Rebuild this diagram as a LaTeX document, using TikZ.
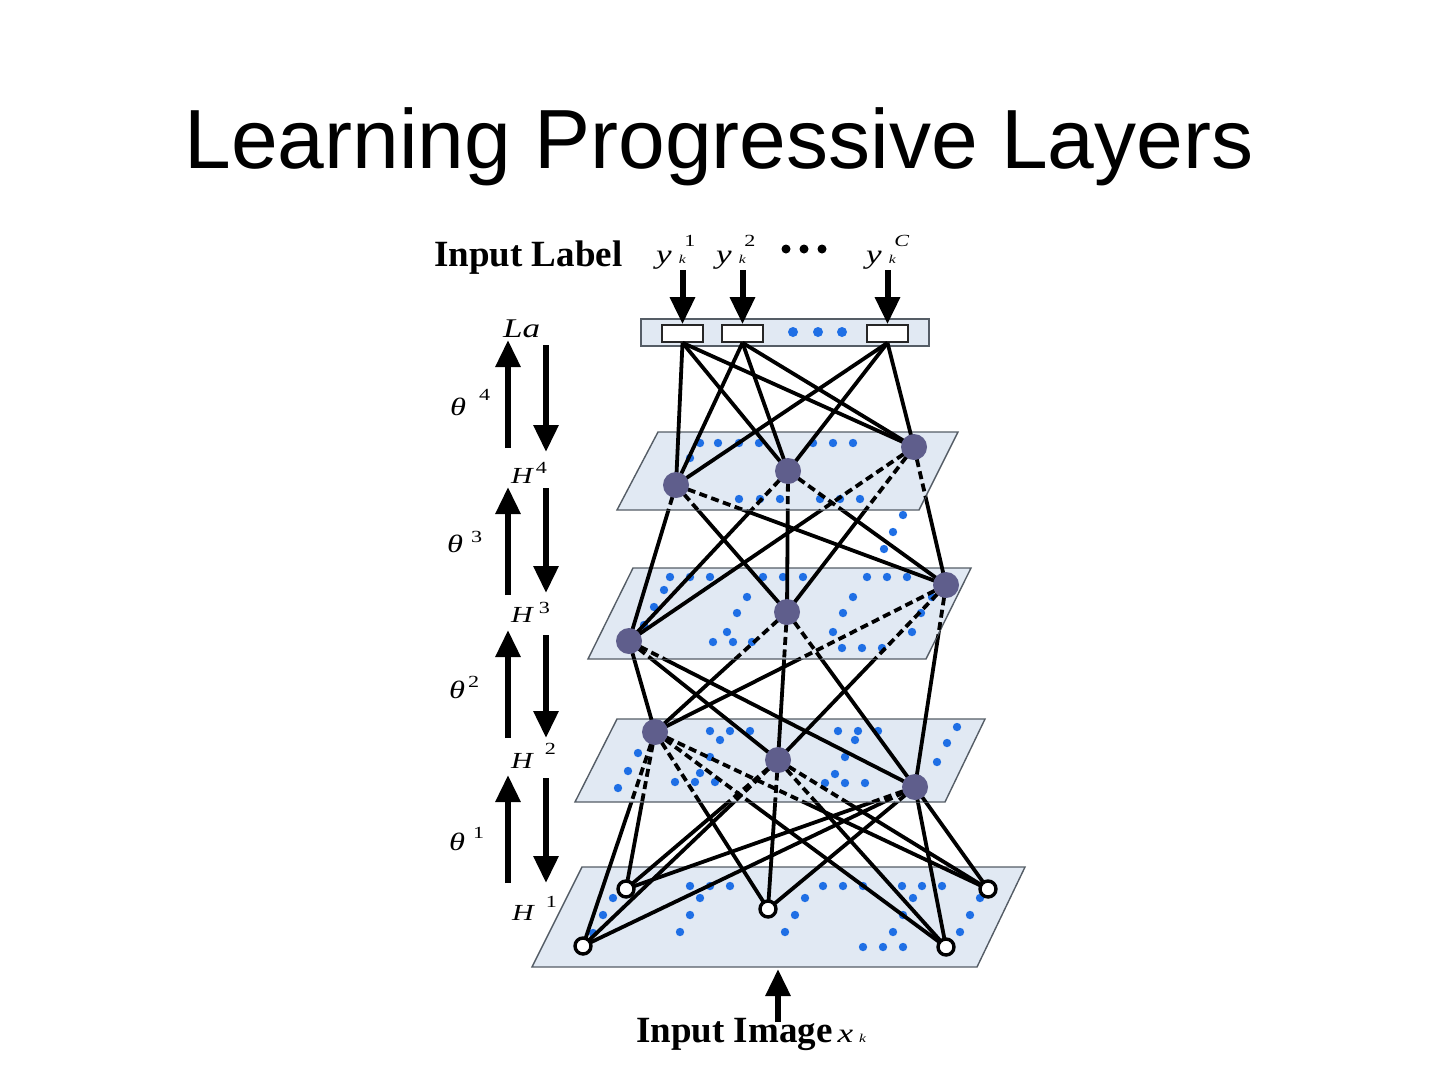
\documentclass[tikz,border=0pt]{standalone}
\usepackage{fontspec}
\setmainfont{Liberation Serif}
\newfontfamily\titlefont{Liberation Sans}
\newfontfamily\labfont[FakeStretch=1.3]{Liberation Serif}
\usetikzlibrary{arrows.meta}

\definecolor{planefill}{HTML}{E1E9F3}
\definecolor{planeline}{HTML}{555D66}
\definecolor{dotblue}{HTML}{1F6FE5}
\definecolor{unitfill}{HTML}{5F5E8C}

% gap, raise, letter, digit
\newcommand{\lbl}[4]{{\labfont\itshape #3}\kern#1pt\raisebox{#2pt}{\fontsize{17}{17}\selectfont\labfont #4}}
\newcommand{\ylab}[2]{{\labfont\itshape y}\kern7pt\rlap{\raisebox{17pt}{\fontsize{17}{17}\selectfont\labfont #2 #1}}{\fontsize{12}{12}\selectfont\labfont\itshape k}}

\tikzset{
  plane/.style={fill=planefill, draw=planeline, line width=1.4pt},
  hidunit/.style={circle, fill=unitfill, minimum size=26pt, inner sep=0pt},
  visunit/.style={circle, draw=black, fill=white, line width=3.4pt, minimum size=16pt, inner sep=0pt},
  labelbox/.style={draw=black!85, fill=white, line width=1.6pt, minimum width=41pt, minimum height=17pt, inner sep=0pt},
  link/.style={line width=3.8pt},
  hiddenlink/.style={line width=3.8pt, dash pattern=on 8pt off 4.5pt},
  flow/.style={line width=6pt, -{Triangle[length=27pt,width=24pt]}},
  mathlab/.style={font=\fontsize{23}{25}\selectfont, inner sep=0pt, anchor=base west},
  boldlab/.style={font=\fontsize{37}{40}\selectfont\bfseries, inner sep=0pt, anchor=base west}
}

\begin{document}
\begin{tikzpicture}[x=1pt,y=-1pt]
\useasboundingbox (0,0) rectangle (1440,1080);

\node[font=\titlefont\fontsize{84}{90}\selectfont, inner sep=0pt, anchor=base] (title) at (719,168) {Learning Progressive Layers};

% plane corners
\foreach \n/\ty/\by/\tl/\tr/\bl/\br in {4/432/510/658/958/617/919, 3/568/659/633/971/588/926, 2/719/802/617/985/575/945, 1/867/967/582/1025/532/977}{
  \coordinate (nw\n) at (\tl,\ty);
  \coordinate (ne\n) at (\tr,\ty);
  \coordinate (se\n) at (\br,\by);
  \coordinate (sw\n) at (\bl,\by);
}

% units
\foreach \u/\x/\y in {h4a/676/485, h4b/788/471, h4c/914/447, h3a/629/641, h3b/787/612, h3c/946/585, h2a/655/732, h2b/778/760, h2c/915/787, h1a/626/889, h1b/768/909, h1c/988/889, h1d/583/946, h1e/946/947}
  \coordinate (\u) at (\x,\y);

% layer 1
\draw[plane] (nw1) -- (ne1) -- (se1) -- (sw1) -- cycle;
\foreach \x/\y in {690/886, 710/886, 730/886, 700/898, 690/915, 680/932, 613/898, 603/915, 593/933, 823/886, 843/886, 863/886, 805/898, 795/915, 785/932, 902/886, 922/886, 942/886, 913/898, 903/915, 893/932, 863/947, 883/947, 903/947, 980/898, 970/915, 960/932}
  \fill[dotblue] (\x,\y) circle (4.2pt);
\foreach \u in {h2a,h2b,h2c}
  \foreach \v in {h1a,h1b,h1c,h1d,h1e}
    \draw[link] (\u) -- (\v);

% layer 2
\draw[plane] (nw2) -- (ne2) -- (se2) -- (sw2) -- cycle;
\foreach \x/\y in {710/731, 730/731, 750/731, 720/740, 838/731, 858/731, 878/731, 855/740, 957/727, 947/743, 937/762, 638/753, 628/771, 618/788, 710/757, 700/773, 675/782, 695/782, 715/782, 845/757, 835/774, 825/783, 845/783, 865/783}
  \fill[dotblue] (\x,\y) circle (4.2pt);
\begin{scope}
  \clip (nw2) -- (ne2) -- (se2) -- (sw2) -- cycle;
  \foreach \u in {h2a,h2b,h2c}
    \foreach \v in {h1a,h1b,h1c,h1d,h1e}
      \draw[hiddenlink] (\u) -- (\v);
\end{scope}
\foreach \u in {h3a,h3b,h3c}
  \foreach \v in {h2a,h2b,h2c}
    \draw[link] (\u) -- (\v);

% layer 3
\draw[plane] (nw3) -- (ne3) -- (se3) -- (sw3) -- cycle;
\foreach \x/\y in {670/577, 690/577, 710/577, 763/577, 783/577, 803/577, 867/577, 887/577, 907/577, 664/590, 654/607, 644/625, 747/597, 737/613, 727/632, 713/642, 733/642, 752/642, 853/597, 843/613, 833/632, 842/648, 862/648, 882/648, 932/597, 921/613, 912/632, 903/515, 893/532, 884/549}
  \fill[dotblue] (\x,\y) circle (4.2pt);
\begin{scope}
  \clip (nw3) -- (ne3) -- (se3) -- (sw3) -- cycle;
  \foreach \u in {h3a,h3b,h3c}
    \foreach \v in {h2a,h2b,h2c}
      \draw[hiddenlink] (\u) -- (\v);
\end{scope}
\foreach \u in {h4a,h4b,h4c}
  \foreach \v in {h3a,h3b,h3c}
    \draw[link] (\u) -- (\v);

% layer 4
\draw[plane] (nw4) -- (ne4) -- (se4) -- (sw4) -- cycle;
\foreach \x/\y in {700/443, 718/443, 739/443, 759/443, 813/443, 833/443, 853/443, 690/458, 739/499, 760/499, 780/499, 820/499, 840/499, 860/499}
  \fill[dotblue] (\x,\y) circle (4.2pt);
\begin{scope}
  \clip (nw4) -- (ne4) -- (se4) -- (sw4) -- cycle;
  \foreach \u in {h4a,h4b,h4c}
    \foreach \v in {h3a,h3b,h3c}
      \draw[hiddenlink] (\u) -- (\v);
\end{scope}

% label layer
\node[plane, minimum width=288pt, minimum height=27pt, inner sep=0pt] (labelbar) at (785,332.5) {};
\node[labelbox] (lb1) at (682.5,333.5) {};
\node[labelbox] (lb2) at (742.5,333.5) {};
\node[labelbox] (lb3) at (887.5,333.5) {};
\foreach \x in {793,818,842}
  \fill[dotblue] (\x,332) circle (5pt);
\foreach \b in {lb1,lb2,lb3}
  \foreach \v in {h4a,h4b,h4c}
    \draw[link] (\b.south) -- (\v);

\node[boldlab] (inlabel) at (434,266) {Input Label};
\node[mathlab, font=\fontsize{27}{29}\selectfont] (y1) at (656,263) {\ylab{1}{}};
\node[mathlab, font=\fontsize{27}{29}\selectfont] (y2) at (716,263) {\ylab{2}{}};
\node[mathlab, font=\fontsize{27}{29}\selectfont] (yc) at (866,263) {\ylab{C}{\itshape}};
\foreach \x in {786,804,822}
  \fill (\x,249) circle (4.5pt);
\foreach \b in {lb1,lb2,lb3}
  \draw[flow] ([yshift=54pt]\b.north) -- (\b.north);

% left side
\foreach \a/\b in {448/340, 595/487, 738/630, 883/775}
  \draw[flow] (508,\a) -- (508,\b);
\foreach \a/\b in {345/452, 488/593, 635/738, 778/883}
  \draw[flow] (546,\a) -- (546,\b);
\node[mathlab, font=\fontsize{27}{29}\selectfont] (la) at (503,337) {\labfont\itshape La};
\node[mathlab, font=\fontsize{25}{27}\selectfont] (t4) at (450,415) {\lbl{13}{15}{θ}{4}};
\node[mathlab, font=\fontsize{25}{27}\selectfont] (t3) at (447,552) {\lbl{8}{10}{θ}{3}};
\node[mathlab, font=\fontsize{25}{27}\selectfont] (t2) at (449,698) {\lbl{3}{11}{θ}{2}};
\node[mathlab, font=\fontsize{25}{27}\selectfont] (t1) at (449,850) {\lbl{8}{12}{θ}{1}};
\node[mathlab] (hl4) at (511,483) {\lbl{3}{10}{H}{4}};
\node[mathlab] (hl3) at (511,622) {\lbl{6}{9}{H}{3}};
\node[mathlab] (hl2) at (511,768) {\lbl{12}{14}{H}{2}};
\node[mathlab] (hl1) at (512,920) {\lbl{12}{13}{H}{1}};

% input image
\node[boldlab] (inimage) at (636,1042) {Input Image\kern5pt{\mdseries\fontsize{27}{27}\selectfont\labfont\itshape x\kern6pt{\fontsize{12}{12}\selectfont k}}};
\coordinate (imgfoot) at (778,1022);
\coordinate (imghead) at (778,969);
\draw[flow] (imgfoot) -- (imghead);

% unit circles on top
\foreach \u in {h4a,h4b,h4c,h3a,h3b,h3c,h2a,h2b,h2c}
  \node[hidunit] at (\u) {};
\foreach \u in {h1a,h1b,h1c,h1d,h1e}
  \node[visunit] at (\u) {};

\end{tikzpicture}
\end{document}
